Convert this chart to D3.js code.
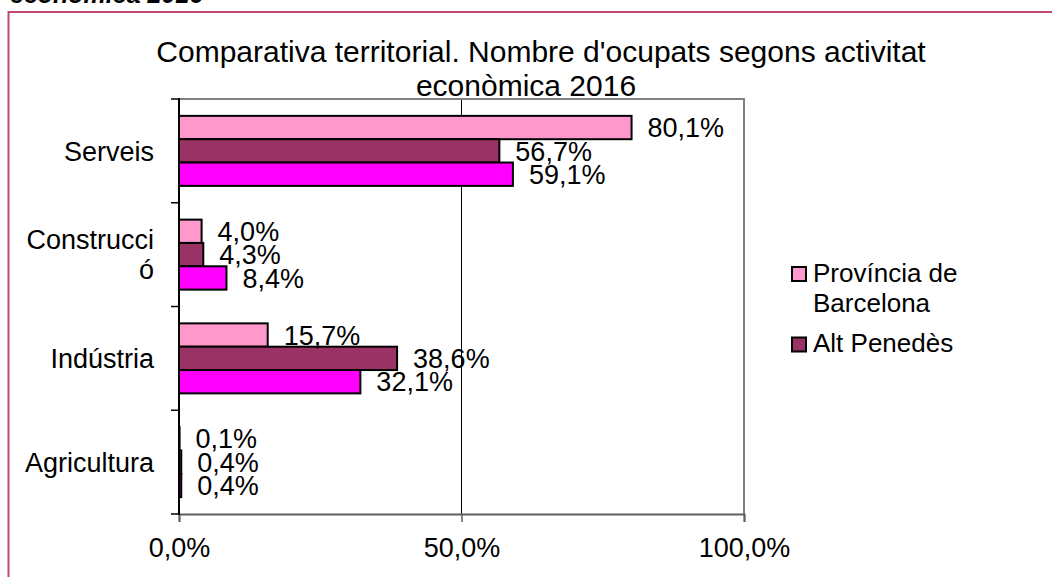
<!DOCTYPE html>
<html>
<head>
<meta charset="utf-8">
<script src="https://cdn.jsdelivr.net/npm/d3@7"></script>
<style>
  html, body { margin: 0; padding: 0; background: #fff; }
  svg { display: block; font-family: "Liberation Sans", Arial, sans-serif; }
</style>
</head>
<body>
<svg id="chart" width="1052" height="577"></svg>
<script>
// ---- data ----
const categories = ["Serveis", "Construcció", "Indústria", "Agricultura"];
const categoryLines = [["Serveis"], ["Construcci", "ó"], ["Indústria"], ["Agricultura"]];
const seriesNames = ["Província de Barcelona", "Alt Penedès", "Catalunya"];
const provinciaBarcelona = [80.1, 4.0, 15.7, 0.1];
const altPenedes = [56.7, 4.3, 38.6, 0.4];
const catalunya = [59.1, 8.4, 32.1, 0.4];
const xTicks = [0, 50, 100];
const legendLines = [["Província de", "Barcelona"], ["Alt Penedès"]];
const titleLines = ["Comparativa territorial. Nombre d'ocupats segons activitat", "econòmica 2016"];
const headerText = "econòmica 2016";

const seriesValues = [provinciaBarcelona, altPenedes, catalunya];
const colors = ["#ff99cc", "#993366", "#ff00ff"];

(function () {
const svg = d3.select("#chart");
const fmt = v => v.toFixed(1).replace(".", ",") + "%";

// cropped header text at very top
svg.append("text").attr("x", 10).attr("y", 3)
  .attr("font-size", 25).attr("font-weight", "bold").attr("font-style", "italic")
  .attr("fill", "#000").text(headerText);

// outer frame (extends beyond the window)
svg.append("rect").attr("x", 8.5).attr("y", 12).attr("width", 1200).attr("height", 700)
  .attr("fill", "none").attr("stroke", "#c04a6e").attr("stroke-width", 2);

// title
svg.append("text").attr("x", 541).attr("y", 62).attr("text-anchor", "middle")
  .attr("font-size", 30).attr("fill", "#000").text(titleLines[0]);
svg.append("text").attr("x", 526).attr("y", 96).attr("text-anchor", "middle")
  .attr("font-size", 30).attr("fill", "#000").text(titleLines[1]);

// scales
const pLeft = 179, pRight = 744, pTop = 99, pBottom = 514;
const x = d3.scaleLinear().domain([0, 100]).range([pLeft, pRight]);
const y = d3.scaleBand().domain(categories).range([pTop, pBottom]);
const ySub = d3.scaleBand().domain(d3.range(seriesNames.length))
  .range([0, y.bandwidth()]).paddingOuter(0.723);

// gridline at 50
svg.append("g").selectAll("line").data(xTicks.filter(d => d > 0 && d < 100)).join("line")
  .attr("x1", d => x(d)).attr("x2", d => x(d)).attr("y1", pTop).attr("y2", pBottom)
  .attr("stroke", "#000").attr("stroke-width", 1);

// plot border top/right
svg.append("path")
  .attr("d", `M${pLeft},${pTop}H${pRight}V${pBottom}`)
  .attr("fill", "none").attr("stroke", "#808080").attr("stroke-width", 2);

// bars
const rows = [];
categories.forEach((c, i) => {
  seriesValues.forEach((vals, s) => rows.push({ c, s, v: vals[i] }));
});
svg.append("g").selectAll("rect").data(rows).join("rect")
  .attr("x", x(0))
  .attr("y", d => y(d.c) + ySub(d.s))
  .attr("width", d => x(d.v) - x(0))
  .attr("height", ySub.bandwidth())
  .attr("fill", d => colors[d.s])
  .attr("stroke", "#000").attr("stroke-width", 2);

// data labels
svg.append("g").selectAll("text").data(rows).join("text")
  .attr("x", d => x(d.v) + 16)
  .attr("y", d => y(d.c) + ySub(d.s) + ySub.bandwidth() / 2 + 9.7)
  .attr("font-size", 27).attr("fill", "#000")
  .text(d => fmt(d.v));

// bottom axis
const xAxis = d3.axisBottom(x).tickValues(xTicks).tickSize(8).tickPadding(16).tickFormat(fmt);
const gx = svg.append("g").attr("transform", `translate(0,${pBottom})`).call(xAxis);
gx.select(".domain").attr("stroke", "#606060").attr("stroke-width", 2);
gx.selectAll(".tick line").attr("stroke", "#606060").attr("stroke-width", 1.5);
gx.selectAll(".tick text").attr("font-size", 27).attr("fill", "#000")
  .attr("font-family", "Liberation Sans, Arial, sans-serif");

// left axis line and ticks
svg.append("line").attr("x1", pLeft).attr("x2", pLeft).attr("y1", pTop - 1).attr("y2", pBottom + 1)
  .attr("stroke", "#000").attr("stroke-width", 2);
const bounds = categories.map(c => y(c)).concat([pBottom]);
svg.append("g").selectAll("line").data(bounds).join("line")
  .attr("x1", pLeft - 8).attr("x2", pLeft).attr("y1", d => d).attr("y2", d => d)
  .attr("stroke", "#000").attr("stroke-width", 1.5);

// category labels
const catG = svg.append("g");
categories.forEach((c, i) => {
  const lines = categoryLines[i];
  const cy = y(c) + y.bandwidth() / 2;
  const lh = 30;
  lines.forEach((ln, j) => {
    catG.append("text")
      .attr("x", 154)
      .attr("y", cy + 9.7 + (j - (lines.length - 1) / 2) * lh)
      .attr("text-anchor", "end").attr("font-size", 27).attr("fill", "#000")
      .text(ln);
  });
});

// legend
const legG = svg.append("g");
const legY = [267, 337.5];
legendLines.forEach((lines, i) => {
  legG.append("rect").attr("x", 792).attr("y", legY[i]).attr("width", 14).attr("height", 14)
    .attr("fill", colors[i]).attr("stroke", "#000").attr("stroke-width", 2);
  lines.forEach((ln, j) => {
    legG.append("text").attr("x", 813).attr("y", legY[i] + 14.5 + j * 30)
      .attr("font-size", 26).attr("fill", "#000").text(ln);
  });
});
})();
</script>
</body>
</html>
